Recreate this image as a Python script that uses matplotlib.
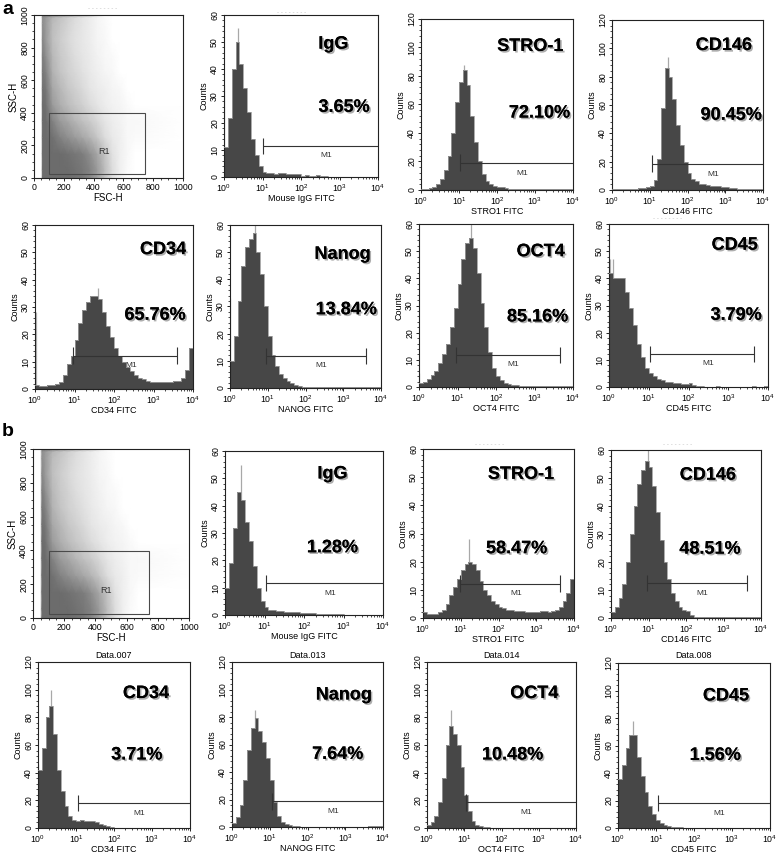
import numpy as np
import matplotlib
matplotlib.use('Agg')
import matplotlib.pyplot as plt
import matplotlib.patheffects as pe
from matplotlib.colors import LinearSegmentedColormap, PowerNorm
from matplotlib.patches import Rectangle
from matplotlib.ticker import MultipleLocator, LogLocator, NullFormatter

plt.rcParams['font.family'] = ['Liberation Sans', 'DejaVu Sans']
plt.rcParams['mathtext.default'] = 'regular'

# histogram channels: 0.1 decade wide, from 10^0 to 10^4
log_edges = np.linspace(0, 4, 41)

# counts, panel a
a_igg = [11, 22, 40, 50, 42, 33, 24, 14, 8, 4,
         2, 1.5, 1.5, 1, 1.5, 1.5, 1, 1, 1, 1,
         0.5, 0.8, 0.3, 0.5, 0.8, 0.5, 0.3, 0, 0, 0,
         0, 0, 0, 0, 0, 0, 0, 0, 0, 0]
a_stro1 = [1, 1, 1.5, 2, 4, 8, 14, 24, 40, 62,
           76, 84, 74, 52, 34, 20, 11, 6, 4, 3,
           2, 2, 1.5, 1, 1, 1, 0.5, 0.5, 0.5, 0.5,
           0.5, 0.5, 0.5, 0.5, 0.5, 0.5, 0.5, 0.5, 0.5, 0.5]
a_cd146 = [0.5, 0.5, 0.5, 1, 1, 1, 1, 1.5, 1.5, 2,
           3, 7, 22, 58, 86, 80, 64, 46, 32, 20,
           12, 8, 6, 4.5, 4, 3.5, 3, 2.5, 2.5, 2,
           2, 1.5, 1.5, 1, 1, 1, 1, 1, 1, 1]
a_cd34 = [1.5, 1, 1, 1.5, 1.5, 2, 2.5, 5, 9, 12,
          18, 24, 29, 32, 34, 34, 33, 28, 23, 19,
          15, 12, 10, 8, 6.5, 5, 4, 3.5, 3, 2.5,
          2.5, 2.5, 2.5, 2.5, 2.5, 3, 3, 4, 7, 15]
a_nanog = [10, 19, 32, 45, 52, 55, 57, 50, 42, 30,
           19, 12, 8, 5, 3.5, 2.5, 2, 1, 0.8, 0.5,
           0.5, 0.3, 0.3, 0.5, 0.3, 0.3, 0.3, 0.5, 0.3, 0.3,
           0.3, 0.3, 0.3, 0.3, 0.5, 0.3, 0.5, 0.3, 0.5, 0.3]
a_oct4 = [1.5, 2, 3, 4.5, 6, 9, 12, 16, 22, 29,
          38, 47, 53, 55, 51, 42, 31, 22, 13, 7,
          4, 2.5, 1.5, 1, 0.8, 0.6, 0.5, 0.4, 0.3, 0.3,
          0.3, 0.3, 0.3, 0.3, 0.3, 0.3, 0.3, 0.3, 0.3, 0.3]
a_cd45 = [42, 40, 40, 40, 35, 29, 23, 16, 11, 7,
          5, 4, 3, 2.5, 2, 2, 1.5, 1.5, 1, 1,
          1.5, 0.8, 0.5, 0.3, 0, 0, 0, 0.3, 0, 0,
          0, 0, 0, 0, 0, 0, 0.3, 0, 0, 0.3]

# panel b
b_igg = [10, 19, 32, 45, 42, 34, 27, 18, 10, 5,
         3, 2, 2, 1.5, 1.5, 1.2, 1, 1, 1, 0.8,
         0.8, 0.8, 0.6, 0.5, 0.5, 0.5, 0.3, 0.5, 0.3, 0.2,
         0, 0, 0, 0, 0, 0, 0, 0, 0, 0]
b_stro1 = [2, 1.5, 1.5, 1.5, 2, 3, 5, 8, 11, 14,
           17, 19, 20, 19, 17, 13, 10, 8, 6, 5,
           4, 3.5, 3, 3, 2.5, 2.5, 2.5, 2, 2, 2,
           2, 2.5, 2.5, 2, 2.5, 3, 4, 6, 9, 14]
b_cd146 = [2, 4, 7, 12, 20, 30, 40, 48, 53, 56,
           54, 47, 38, 28, 20, 14, 9, 6, 4, 3,
           2.5, 1.2, 0.5, 0.3, 0.3, 0.2, 0.3, 0.3, 0.2, 0.3,
           0.3, 0.3, 0.3, 0.2, 0.3, 0.3, 0.3, 0.3, 0.3, 0.3]
b_cd34 = [42, 58, 80, 88, 68, 42, 27, 16, 9, 6,
          5, 6, 5, 5, 5, 4, 3, 2, 1.5, 0.8,
          0.3, 0, 0, 0, 0, 0, 0, 0, 0, 0,
          0, 0, 0, 0, 0, 0, 0, 0, 0, 0]
b_nanog = [3, 7, 16, 34, 56, 72, 79, 70, 62, 50,
           34, 18, 8, 3.5, 2, 1.5, 1, 0.5, 0.3, 0,
           0, 0, 0, 0, 0, 0, 0, 0, 0, 0,
           0, 0, 0, 0, 0, 0, 0.5, 1, 1, 1]
b_oct4 = [2, 4, 9, 19, 36, 60, 74, 68, 60, 44,
          24, 12, 5, 2.5, 1.5, 1, 0.5, 0.3, 0, 0,
          0, 0, 0, 0, 0, 0, 0, 0, 0, 0,
          0, 0, 0, 0, 0, 0, 0, 0, 0, 0]
b_cd45 = [36, 46, 58, 68, 68, 52, 38, 26, 16, 10,
          6, 3.5, 2.5, 1.5, 1, 0.8, 0.5, 0.3, 0, 0,
          0, 0, 0, 0, 0, 0, 0, 0, 0, 0,
          0, 0, 0, 0, 0, 0, 0, 0, 0, 0]

markers = ['IgG', 'STRO-1', 'CD146', 'CD34', 'Nanog', 'OCT4', 'CD45']
xlabels = ['Mouse IgG FITC', 'STRO1 FITC', 'CD146 FITC', 'CD34 FITC',
           'NANOG FITC', 'OCT4 FITC', 'CD45 FITC']
percents_a = ['3.65%', '72.10%', '90.45%', '65.76%', '13.84%', '85.16%', '3.79%']
percents_b = ['1.28%', '58.47%', '48.51%', '3.71%', '7.64%', '10.48%', '1.56%']
ymax_a = [60, 120, 120, 60, 60, 60, 60]
ymax_b = [60, 60, 60, 120, 120, 120, 120]

# M1 gate: start / end (log10 channel) and height in counts
m1_lo_a = [1.02, 1.02, 1.07, 0.96, 0.96, 0.96, 1.02]
m1_hi_a = [4.0, 4.0, 4.0, 3.6, 3.6, 3.66, 3.65]
m1_y_a = [11.4, 19, 18.4, 12.2, 11.9, 11.8, 12.1]
m1_lo_b = [1.04, 0.98, 0.96, 1.04, 1.07, 1.04, 1.04]
m1_hi_b = [4.0, 3.64, 3.62, 4.0, 4.0, 4.0, 4.0]
m1_y_b = [11.6, 12.2, 12.5, 18, 18.6, 18.5, 18.1]

# single tall channels (pile-up at 10^0 and the peak spike)
edge_a = [34, 0, 0, 28, 33, 5, 47]
edge_b = [10, 31, 0, 46, 0, 0, 73]
spike_x_a = [0.37, 1.12, 1.49, 1.6, 0.65, 1.36, 0.1]
spike_y_a = [55, 88, 94, 37, 60, 60, 47]
spike_x_b = [0.4, 1.22, 0.98, 0.33, 0.62, 0.64, 0.4]
spike_y_b = [55, 28, 60, 100, 85, 85, 78]

data_tags = ['Data.007', 'Data.013', 'Data.014', 'Data.008']

# FSC-H / SSC-H dot density read at these grid nodes
fsc_nodes = [0, 48, 58, 80, 125, 175, 225, 275, 325, 375, 425, 475, 525, 575, 625, 675, 1000]
ssc_nodes = [0, 50, 150, 250, 350, 450, 550, 650, 750, 850, 950, 985, 1000]
fsc_ssc_density = [
    [0, 0, 1.0, 1.0, 1.0, 1.0, 1.0, 0.95, 0.9, 0.75, 0.55, 0.3, 0.12, 0.04, 0, 0, 0],
    [0, 0, 1.0, 1.0, 1.0, 1.0, 1.0, 0.95, 0.9, 0.8, 0.6, 0.35, 0.15, 0.05, 0.01, 0, 0],
    [0, 0, 1.0, 1.0, 1.0, 1.0, 0.95, 0.9, 0.85, 0.7, 0.5, 0.3, 0.12, 0.05, 0.02, 0, 0],
    [0, 0, 1.0, 1.0, 0.95, 0.8, 0.7, 0.6, 0.5, 0.4, 0.28, 0.15, 0.08, 0.05, 0.02, 0.01, 0],
    [0, 0, 1.0, 1.0, 0.8, 0.6, 0.5, 0.4, 0.32, 0.25, 0.17, 0.1, 0.06, 0.04, 0.02, 0.02, 0],
    [0, 0, 1.0, 0.95, 0.6, 0.45, 0.35, 0.28, 0.22, 0.15, 0.1, 0.06, 0.04, 0.03, 0.01, 0, 0],
    [0, 0, 0.95, 0.9, 0.5, 0.38, 0.28, 0.22, 0.16, 0.1, 0.07, 0.05, 0.03, 0.02, 0, 0, 0],
    [0, 0, 0.9, 0.8, 0.42, 0.3, 0.22, 0.17, 0.12, 0.08, 0.05, 0.03, 0.02, 0, 0, 0, 0],
    [0, 0, 0.85, 0.7, 0.38, 0.26, 0.2, 0.14, 0.1, 0.07, 0.04, 0.02, 0.01, 0, 0, 0, 0],
    [0, 0, 0.75, 0.6, 0.33, 0.24, 0.17, 0.12, 0.09, 0.06, 0.03, 0.02, 0, 0, 0, 0, 0],
    [0, 0, 0.7, 0.6, 0.35, 0.28, 0.2, 0.14, 0.1, 0.06, 0.03, 0.01, 0, 0, 0, 0, 0],
    [0, 0, 0.7, 0.6, 0.4, 0.3, 0.22, 0.15, 0.1, 0.06, 0.03, 0.01, 0, 0, 0, 0, 0],
    [0, 0, 0.9, 0.9, 0.8, 0.7, 0.6, 0.5, 0.4, 0.3, 0.1, 0, 0, 0, 0, 0, 0],
]
gate_r1 = [100, 25, 745, 398]  # FSC from, SSC from, FSC to, SSC to

W, H = 778, 855
fig = plt.figure(figsize=(W / 100, H / 100), dpi=100)

# axes boxes in pixels: left, top, right, bottom
boxes_a = [(34, 15, 183, 178), (224, 15, 378, 177), (421, 19, 573, 190), (612, 20, 763, 190),
           (35, 225, 193, 389), (230, 225, 381, 388), (419, 224, 573, 387), (609, 224, 768, 387)]
boxes_b = [(33, 449, 189, 618), (225, 451, 383, 615), (423, 449, 574, 618), (611, 450, 761, 618),
           (38, 662, 190, 828), (232, 662, 383, 827), (427, 662, 576, 828), (618, 663, 770, 828)]
lab_pos_a = [(0.71, 0.82), (0.72, 0.84), (0.74, 0.85), (0.81, 0.85), (0.745, 0.82), (0.79, 0.83), (0.79, 0.87)]
pct_pos_a = [(0.78, 0.43), (0.78, 0.45), (0.79, 0.44), (0.76, 0.45), (0.77, 0.48), (0.77, 0.43), (0.80, 0.44)]
lab_pos_b = [(0.68, 0.86), (0.65, 0.85), (0.645, 0.85), (0.71, 0.81), (0.74, 0.80), (0.72, 0.81), (0.71, 0.80)]
pct_pos_b = [(0.68, 0.41), (0.62, 0.41), (0.66, 0.41), (0.65, 0.44), (0.70, 0.44), (0.575, 0.44), (0.64, 0.44)]

grey_map = LinearSegmentedColormap.from_list('dots', ['white', '#6c6c6c'])
shadow = [pe.withSimplePatchShadow(offset=(1.2, -1.2), shadow_rgbFace='#8a8a8a', alpha=0.7), pe.Normal()]


def add_box(box):
    l, t, r, b = box
    return fig.add_axes([l / W, 1 - b / H, (r - l) / W, (b - t) / H])


def style_ax(ax):
    for s in ax.spines.values():
        s.set_linewidth(0.8)
        s.set_color('#222222')
    ax.tick_params(which='major', labelsize=6.3, length=2.5, width=0.6, pad=1)
    ax.tick_params(which='minor', length=1.5, width=0.5)
    ax.tick_params(axis='y', labelrotation=90)
    plt.setp(ax.get_yticklabels(), va='center')


def scatter_panel(box):
    ax = add_box(box)
    ax.pcolormesh(fsc_nodes, ssc_nodes, np.array(fsc_ssc_density), shading='gouraud',
                  cmap=grey_map, norm=PowerNorm(gamma=0.75, vmin=0, vmax=1))
    x0, y0, x1, y1 = gate_r1
    ax.add_patch(Rectangle((x0, y0), x1 - x0, y1 - y0, fill=False, ec='#4a4a4a', lw=0.8))
    ax.text(470, 165, 'R1', fontsize=6.5, color='#333333', ha='center', va='center')
    ax.set_xlim(0, 1000)
    ax.set_ylim(0, 1000)
    ax.xaxis.set_major_locator(MultipleLocator(200))
    ax.yaxis.set_major_locator(MultipleLocator(200))
    ax.xaxis.set_minor_locator(MultipleLocator(50))
    ax.yaxis.set_minor_locator(MultipleLocator(50))
    ax.set_xlabel('FSC-H', fontsize=7, labelpad=0.5)
    ax.set_ylabel('SSC-H', fontsize=7, labelpad=1)
    style_ax(ax)
    return ax


def hist_panel(box, i, counts, ymax, pct, lo, hi, level, edge, sx, sy, lab_xy, pct_xy):
    ax = add_box(box)
    xe = 10 ** log_edges
    yv = np.append(counts, counts[-1])
    if edge:
        ax.vlines(1.03, 0, edge, color='#b4b4b4', lw=0.9, zorder=1)
    ax.vlines(10 ** sx, 0, sy, color='#a8a8a8', lw=0.9, zorder=1)
    ax.fill_between(xe, yv, step='post', color='#474747', lw=0, zorder=2)
    ax.step(xe, yv, where='post', color='#9c9c9c', lw=0.6, zorder=3)
    # M1 marker
    cap = ymax * 0.05
    ax.hlines(level, 10 ** lo, 10 ** hi, color='#333333', lw=0.8, zorder=4)
    ax.vlines(10 ** lo, level - cap, level + cap, color='#333333', lw=0.8, zorder=4)
    if hi < 3.99:
        ax.vlines(10 ** hi, level - cap, level + cap, color='#333333', lw=0.8, zorder=4)
    ax.text(10 ** ((lo + hi) / 2 + 0.15), level - ymax * 0.06, 'M1', fontsize=6,
            color='#333333', ha='center', va='center', zorder=4)
    ax.text(*lab_xy, markers[i], transform=ax.transAxes, fontsize=13, fontweight='bold',
            ha='center', va='center', path_effects=shadow, zorder=5)
    ax.text(*pct_xy, pct, transform=ax.transAxes, fontsize=13, fontweight='bold',
            ha='center', va='center', path_effects=shadow, zorder=5)
    ax.set_xscale('log')
    ax.set_xlim(1, 1e4)
    ax.set_ylim(0, ymax)
    ax.xaxis.set_major_locator(LogLocator(base=10, numticks=6))
    ax.xaxis.set_minor_locator(LogLocator(base=10, subs=np.arange(2, 10), numticks=20))
    ax.xaxis.set_minor_formatter(NullFormatter())
    ax.yaxis.set_major_locator(MultipleLocator(ymax / 6))
    ax.yaxis.set_minor_locator(MultipleLocator(ymax / 30))
    ax.set_xlabel(xlabels[i], fontsize=6.5, labelpad=0.5)
    ax.set_ylabel('Counts', fontsize=6.5, labelpad=1)
    style_ax(ax)
    return ax


hist_a = [a_igg, a_stro1, a_cd146, a_cd34, a_nanog, a_oct4, a_cd45]
hist_b = [b_igg, b_stro1, b_cd146, b_cd34, b_nanog, b_oct4, b_cd45]

scatter_panel(boxes_a[0])
scatter_panel(boxes_b[0])
for i in range(7):
    hist_panel(boxes_a[i + 1], i, hist_a[i], ymax_a[i], percents_a[i], m1_lo_a[i], m1_hi_a[i],
               m1_y_a[i], edge_a[i], spike_x_a[i], spike_y_a[i], lab_pos_a[i], pct_pos_a[i])
    hist_panel(boxes_b[i + 1], i, hist_b[i], ymax_b[i], percents_b[i], m1_lo_b[i], m1_hi_b[i],
               m1_y_b[i], edge_b[i], spike_x_b[i], spike_y_b[i], lab_pos_b[i], pct_pos_b[i])

# panel letters
fig.text(2 / W, 1 - 1 / H, 'a', fontsize=14, fontweight='bold', va='top', ha='left')
fig.text(2 / W, 1 - 423 / H, 'b', fontsize=14, fontweight='bold', va='top', ha='left')

# file names above the lower row of panel b
for box, tag in zip(boxes_b[4:], data_tags):
    l, t, r, b = box
    fig.text((l + r) / 2 / W, 1 - (t - 7) / H, tag, fontsize=6.5, ha='center', va='center')

# faint traces of cut-off titles
for xp, yp in [(103, 9), (292, 12), (490, 444), (678, 444), (668, 219)]:
    fig.text(xp / W, 1 - yp / H, '- - - - - - - -', fontsize=4.5, color='#b8b8b8',
             ha='center', va='center')

fig.savefig('out.png', dpi=100)
